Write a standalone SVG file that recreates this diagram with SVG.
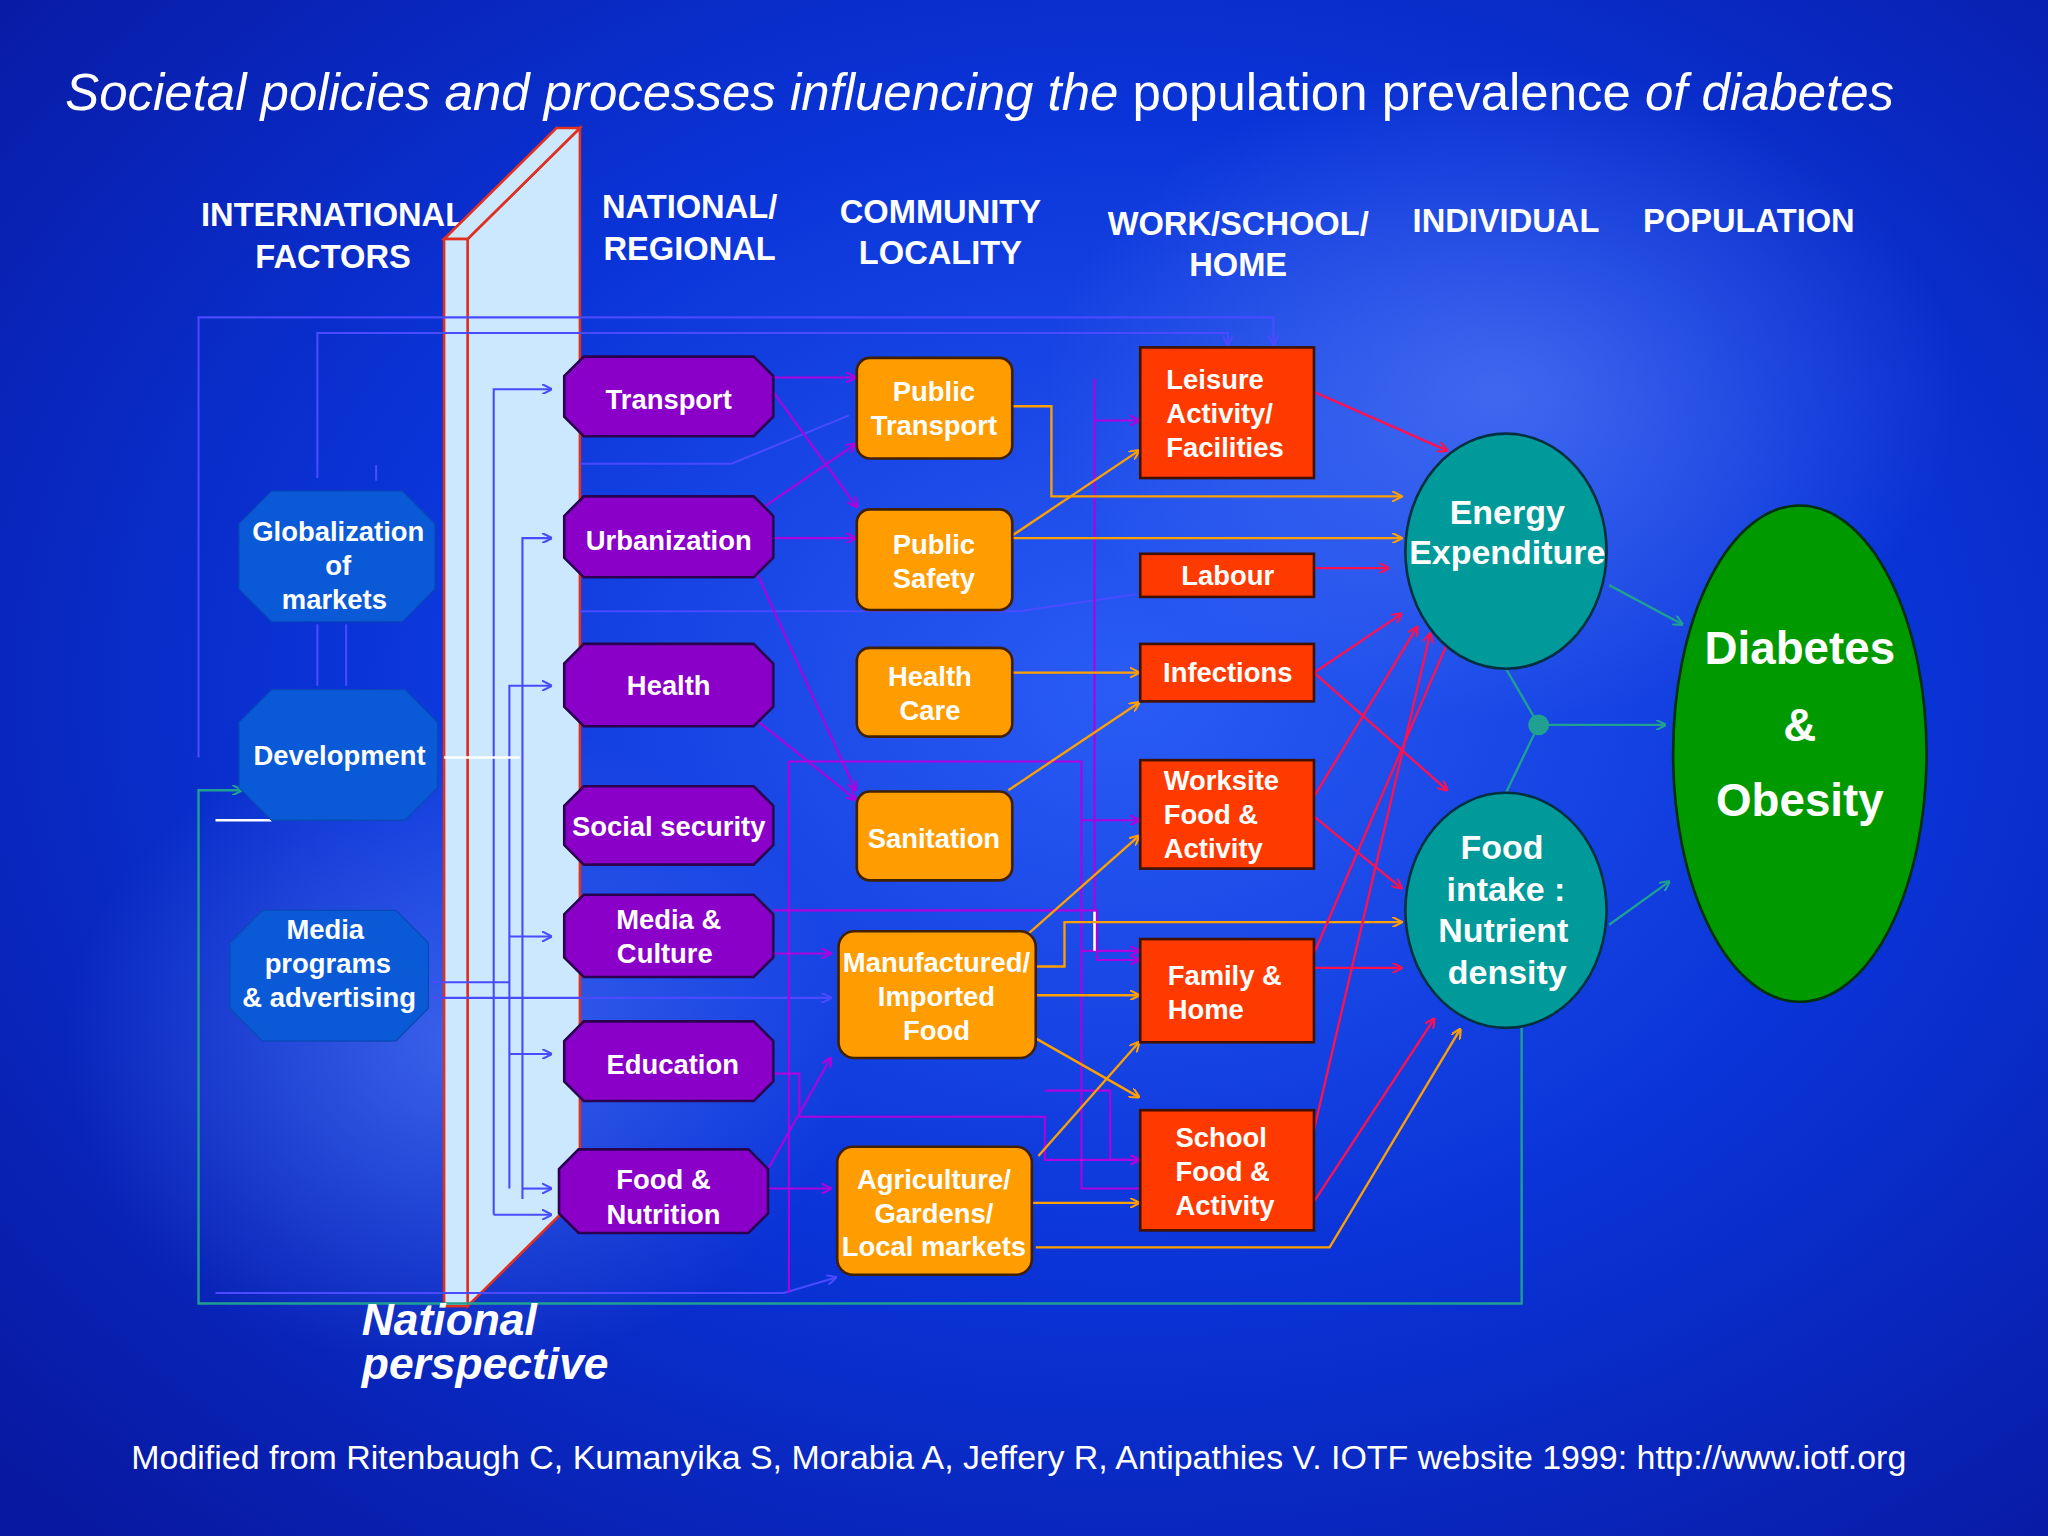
<svg xmlns="http://www.w3.org/2000/svg" width="2048" height="1536" viewBox="0 0 2048 1536">
<defs>
<radialGradient id="bg" cx="0.55" cy="0.45" r="0.75">
<stop offset="0" stop-color="#2a5cf5"/><stop offset="0.5" stop-color="#0a34d8"/><stop offset="1" stop-color="#0818a0"/>
</radialGradient>
<radialGradient id="glow" cx="0.5" cy="0.5" r="0.5">
<stop offset="0" stop-color="#6a90ff" stop-opacity="0.5"/><stop offset="1" stop-color="#6a90ff" stop-opacity="0"/>
</radialGradient>
<marker id="mb" viewBox="0 0 10 10" refX="9" refY="5" markerWidth="8" markerHeight="8" orient="auto" markerUnits="userSpaceOnUse"><path d="M0,0 L10,5 L0,10" fill="none" stroke="#4a4aff" stroke-width="2"/></marker>
<marker id="mp" viewBox="0 0 10 10" refX="9" refY="5" markerWidth="8" markerHeight="8" orient="auto" markerUnits="userSpaceOnUse"><path d="M0,0 L10,5 L0,10" fill="none" stroke="#b000e0" stroke-width="2"/></marker>
<marker id="mo" viewBox="0 0 10 10" refX="9" refY="5" markerWidth="8" markerHeight="8" orient="auto" markerUnits="userSpaceOnUse"><path d="M0,0 L10,5 L0,10" fill="none" stroke="#ffa000" stroke-width="2"/></marker>
<marker id="mr" viewBox="0 0 10 10" refX="9" refY="5" markerWidth="8" markerHeight="8" orient="auto" markerUnits="userSpaceOnUse"><path d="M0,0 L10,5 L0,10" fill="none" stroke="#ff1050" stroke-width="2"/></marker>
<marker id="mt" viewBox="0 0 10 10" refX="9" refY="5" markerWidth="8" markerHeight="8" orient="auto" markerUnits="userSpaceOnUse"><path d="M0,0 L10,5 L0,10" fill="none" stroke="#20a090" stroke-width="2"/></marker>
</defs>
<style>
.hd{font-family:"Liberation Sans",Arial,sans-serif;font-weight:bold;font-size:25px;fill:#fff;text-anchor:middle}
.lb{font-family:"Liberation Sans",Arial,sans-serif;font-weight:bold;font-size:21px;fill:#fff;text-anchor:middle}
.oct{fill:#8a00c8;stroke:#2a0050;stroke-width:2}
.blu{fill:#0a5ad8;stroke:#0a4ab8;stroke-width:1}
.org{fill:#ff9c00;stroke:#402000;stroke-width:2}
.red{fill:#ff3a00;stroke:#401000;stroke-width:2}
.cb{fill:none;stroke:#4a4aff;stroke-width:1.6;marker-end:url(#mb)}
.cbn{fill:none;stroke:#4a4aff;stroke-width:1.6}
.cp{fill:none;stroke:#b000e0;stroke-width:1.6;marker-end:url(#mp)}
.cpn{fill:none;stroke:#b000e0;stroke-width:1.6}
.co{fill:none;stroke:#ffa000;stroke-width:1.8;marker-end:url(#mo)}
.cr{fill:none;stroke:#ff1050;stroke-width:1.8;marker-end:url(#mr)}
.ct{fill:none;stroke:#20a090;stroke-width:1.8;marker-end:url(#mt)}
</style>
<rect width="2048" height="1536" fill="url(#bg)"/>
<g transform="scale(1.30612)">
<ellipse cx="1150" cy="300" rx="350" ry="250" fill="url(#glow)"/>
<ellipse cx="350" cy="800" rx="300" ry="250" fill="url(#glow)"/>
<text x="50" y="84" font-family="Liberation Sans,Arial,sans-serif" font-size="39" fill="#fff"><tspan font-style="italic">Societal policies and processes influencing the</tspan> population prevalence <tspan font-style="italic">of diabetes</tspan></text>
<text class="hd"><tspan x="255" y="173">INTERNATIONAL</tspan><tspan x="255" y="205">FACTORS</tspan></text>
<text class="hd"><tspan x="528" y="167">NATIONAL/</tspan><tspan x="528" y="199">REGIONAL</tspan></text>
<text class="hd"><tspan x="720" y="171">COMMUNITY</tspan><tspan x="720" y="202">LOCALITY</tspan></text>
<text class="hd"><tspan x="948" y="180">WORK/SCHOOL/</tspan><tspan x="948" y="211">HOME</tspan></text>
<text class="hd" x="1153" y="178">INDIVIDUAL</text>
<text class="hd" x="1339" y="178">POPULATION</text>

<g id="panel">
<polygon points="358,183 444,98 444,915 358,1000" fill="#cce8ff" stroke="#e03020" stroke-width="2"/>
<polygon points="340,183 426,98 444,98 358,183" fill="#cce8ff" stroke="#e03020" stroke-width="2"/>
<rect x="340" y="183" width="18" height="817" fill="#cce8ff" stroke="#e03020" stroke-width="2"/>
</g>

<g id="connectors">
<path class="cb" d="M152,580 V243 H975 V264"/>
<path class="cb" d="M243,366 V255 H940 V264"/>
<path class="cbn" d="M288,356 V368"/>
<path class="cbn" d="M265,525 V478"/>
<path class="cbn" d="M243,525 V478"/>
<path class="cb" d="M378,930 V298 H422"/>
<path class="cb" d="M400,918 V412 H422"/>
<path class="cb" d="M390,910 V525 H422"/>
<path class="cb" d="M390,717 H422"/>
<path class="cb" d="M390,807 H422"/>
<path class="cb" d="M400,910 H422"/>
<path class="cb" d="M378,930 H422"/>
<path class="cbn" d="M330,752 H390"/>
<path class="cb" d="M330,764 H636"/>
<path class="cb" d="M165,990 H600 L640,978"/>
<path class="cbn" d="M444,355 H560 L650,318"/>
<path class="cbn" d="M444,468 H780 L870,455"/>
<path fill="none" stroke="#fff" stroke-width="2" d="M340,580 H398 M165,628 H208"/>
<path class="cp" d="M592,289 H655"/>
<path class="cp" d="M592,300 L656,388"/>
<path class="cp" d="M585,388 L655,340"/>
<path class="cp" d="M592,412 H655"/>
<path class="cp" d="M580,440 L655,605"/>
<path class="cp" d="M575,548 L655,612"/>
<path class="cp" d="M592,730 H636"/>
<path class="cp" d="M592,697 H840 V735 H872"/>
<path class="cp" d="M592,822 H612 V855 H800 V888 H872"/>
<path class="cp" d="M588,895 L636,810"/>
<path class="cp" d="M588,910 H636"/>
<path class="cpn" d="M604,990 V583 H828 V910 H872"/>
<path class="cp" d="M828,628 H872"/>
<path class="cp" d="M828,728 H872"/>
<path class="cp" d="M838,720 V290 M838,322 H872"/>
<path class="cp" d="M800,835 H850 V888 H872"/>
<path fill="none" stroke="#fff" stroke-width="2" d="M838,698 V728"/>
<path class="co" d="M775,311 H805 V380 H1073"/>
<path class="co" d="M775,410 L872,345"/>
<path class="co" d="M775,412 H1073"/>
<path class="co" d="M775,515 H872"/>
<path class="co" d="M772,605 L872,538"/>
<path class="co" d="M785,717 L872,640"/>
<path class="co" d="M793,740 H815 V706 H1073"/>
<path class="co" d="M793,762 H872"/>
<path class="co" d="M793,795 L872,840"/>
<path class="co" d="M795,885 L872,798"/>
<path class="co" d="M790,921 H872"/>
<path class="co" d="M793,955 H1018 L1118,788"/>
<path class="cr" d="M1006,300 L1108,345"/>
<path class="cr" d="M1006,435 H1063"/>
<path class="cr" d="M1006,515 L1073,470"/>
<path class="cr" d="M1006,515 L1108,605"/>
<path class="cr" d="M1006,610 L1085,480"/>
<path class="cr" d="M1006,625 L1073,680"/>
<path class="cr" d="M1006,730 L1110,488"/>
<path class="cr" d="M1006,741 H1073"/>
<path class="cr" d="M1006,865 L1095,485"/>
<path class="cr" d="M1006,920 L1098,780"/>
<path class="ct" d="M1232,448 L1288,478"/>
<path class="ct" d="M1178,555 H1275"/>
<path class="ct" d="M1232,708 L1278,675"/>
<path fill="none" stroke="#20a090" stroke-width="1.8" d="M1153,512 L1178,555 L1153,607"/>
<circle cx="1178" cy="555" r="8" fill="#20a090"/>
<path class="ct" d="M1165,785 V998 H152 V605 H185"/>
</g>

<g id="n-glob"><polygon class="blu" points="208,376 308,376 333,401 333,451 308,476 208,476 183,451 183,401"/><text class="lb"><tspan x="259" y="414">Globalization</tspan><tspan x="259" y="440">of</tspan><tspan x="256" y="466">markets</tspan></text></g>
<g id="n-dev"><polygon class="blu" points="208,528 310,528 335,553 335,603 310,628 208,628 183,603 183,553"/><text class="lb" x="260" y="586">Development</text></g>
<g id="n-mprog"><polygon class="blu" points="201,697 303,697 328,722 328,772 303,797 201,797 176,772 176,722"/><text class="lb"><tspan x="249" y="719">Media</tspan><tspan x="251" y="745">programs</tspan><tspan x="252" y="771">&amp; advertising</tspan></text></g>

<g id="n-transport"><polygon class="oct" points="447,273 577,273 592,288 592,319 577,334 447,334 432,319 432,288"/><text class="lb" x="512" y="313">Transport</text></g>
<g id="n-urban"><polygon class="oct" points="447,380 577,380 592,395 592,427 577,442 447,442 432,427 432,395"/><text class="lb" x="512" y="421">Urbanization</text></g>
<g id="n-health"><polygon class="oct" points="447,493 577,493 592,508 592,541 577,556 447,556 432,541 432,508"/><text class="lb" x="512" y="532">Health</text></g>
<g id="n-social"><polygon class="oct" points="447,602 577,602 592,617 592,647 577,662 447,662 432,647 432,617"/><text class="lb" x="512" y="640">Social security</text></g>
<g id="n-media"><polygon class="oct" points="447,685 577,685 592,700 592,733 577,748 447,748 432,733 432,700"/><text class="lb"><tspan x="512" y="711">Media &amp;</tspan><tspan x="509" y="737">Culture</tspan></text></g>
<g id="n-edu"><polygon class="oct" points="447,782 577,782 592,797 592,828 577,843 447,843 432,828 432,797"/><text class="lb" x="515" y="822">Education</text></g>
<g id="n-food"><polygon class="oct" points="443,880 573,880 588,895 588,929 573,944 443,944 428,929 428,895"/><text class="lb"><tspan x="508" y="910">Food &amp;</tspan><tspan x="508" y="937">Nutrition</tspan></text></g>

<g id="n-ptrans"><rect class="org" x="656" y="274" width="119" height="77" rx="10"/><text class="lb"><tspan x="715" y="307">Public</tspan><tspan x="715" y="333">Transport</tspan></text></g>
<g id="n-psafe"><rect class="org" x="656" y="390" width="119" height="77" rx="10"/><text class="lb"><tspan x="715" y="424">Public</tspan><tspan x="715" y="450">Safety</tspan></text></g>
<g id="n-hcare"><rect class="org" x="656" y="496" width="119" height="68" rx="10"/><text class="lb"><tspan x="712" y="525">Health</tspan><tspan x="712" y="551">Care</tspan></text></g>
<g id="n-sanit"><rect class="org" x="656" y="606" width="119" height="68" rx="10"/><text class="lb" x="715" y="649">Sanitation</text></g>
<g id="n-manuf"><rect class="org" x="642" y="713" width="151" height="97" rx="12"/><text class="lb"><tspan x="717" y="744">Manufactured/</tspan><tspan x="717" y="770">Imported</tspan><tspan x="717" y="796">Food</tspan></text></g>
<g id="n-agri"><rect class="org" x="641" y="878" width="149" height="98" rx="12"/><text class="lb"><tspan x="715" y="910">Agriculture/</tspan><tspan x="715" y="936">Gardens/</tspan><tspan x="715" y="962">Local markets</tspan></text></g>

<g id="n-leisure"><rect class="red" x="873" y="266" width="133" height="100"/><text class="lb" style="text-anchor:start"><tspan x="893" y="298">Leisure</tspan><tspan x="893" y="324">Activity/</tspan><tspan x="893" y="350">Facilities</tspan></text></g>
<g id="n-labour"><rect class="red" x="873" y="424" width="133" height="33"/><text class="lb" x="940" y="448">Labour</text></g>
<g id="n-infect"><rect class="red" x="873" y="493" width="133" height="44"/><text class="lb" x="940" y="522">Infections</text></g>
<g id="n-work"><rect class="red" x="873" y="582" width="133" height="83"/><text class="lb" style="text-anchor:start"><tspan x="891" y="605">Worksite</tspan><tspan x="891" y="631">Food &amp;</tspan><tspan x="891" y="657">Activity</tspan></text></g>
<g id="n-family"><rect class="red" x="873" y="719" width="133" height="79"/><text class="lb" style="text-anchor:start"><tspan x="894" y="754">Family &amp;</tspan><tspan x="894" y="780">Home</tspan></text></g>
<g id="n-school"><rect class="red" x="873" y="850" width="133" height="92"/><text class="lb" style="text-anchor:start"><tspan x="900" y="878">School</tspan><tspan x="900" y="904">Food &amp;</tspan><tspan x="900" y="930">Activity</tspan></text></g>

<g id="n-energy"><ellipse cx="1153" cy="422" rx="77" ry="90" fill="#009a9a" stroke="#003040" stroke-width="2"/><text class="lb" style="font-size:26px"><tspan x="1154" y="401">Energy</tspan><tspan x="1154" y="432">Expenditure</tspan></text></g>
<g id="n-foodint"><ellipse cx="1153" cy="697" rx="77" ry="90" fill="#009a9a" stroke="#003040" stroke-width="2"/><text class="lb" style="font-size:26px"><tspan x="1150" y="658">Food</tspan><tspan x="1153" y="690">intake :</tspan><tspan x="1151" y="721">Nutrient</tspan><tspan x="1154" y="753">density</tspan></text></g>
<g id="n-diab"><ellipse cx="1378" cy="577" rx="97" ry="190" fill="#009a00" stroke="#003010" stroke-width="2"/><text class="lb" style="font-size:35px"><tspan x="1378" y="508">Diabetes</tspan><tspan x="1378" y="567">&amp;</tspan><tspan x="1378" y="625">Obesity</tspan></text></g>

<text font-family="Liberation Sans,Arial,sans-serif" font-weight="bold" font-style="italic" font-size="34" fill="#fff"><tspan x="277" y="1022">National</tspan><tspan x="277" y="1056">perspective</tspan></text>
<text x="780" y="1125" text-anchor="middle" font-family="Liberation Sans,Arial,sans-serif" font-size="26" fill="#fff">Modified from Ritenbaugh C,  Kumanyika S,  Morabia A,  Jeffery R, Antipathies V. IOTF website 1999: http://www.iotf.org</text>
</g>
</svg>
